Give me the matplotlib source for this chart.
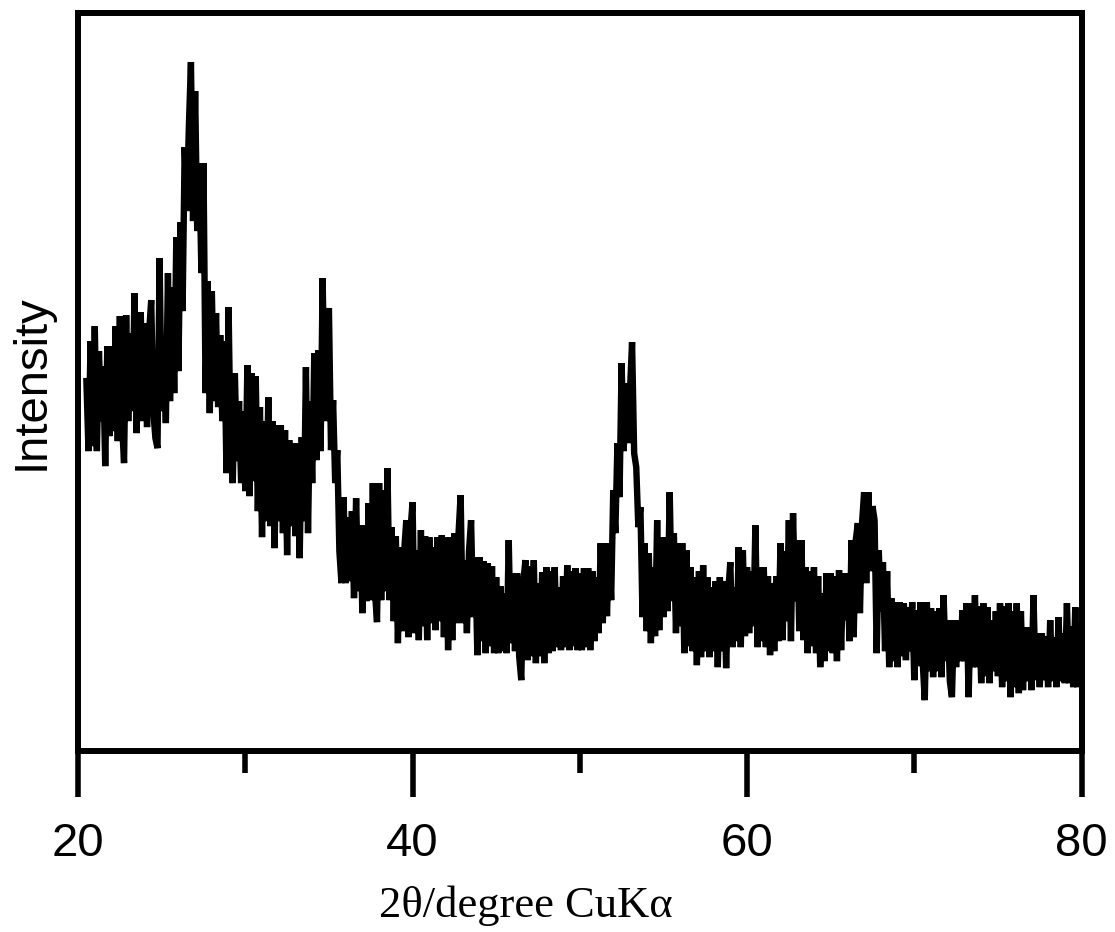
import numpy as np
import matplotlib.pyplot as plt

# XRD pattern, step 0.125 deg starting at 20.5 deg
# one row per degree (arbitrary intensity units)
start_angle = 20.5
step = 0.125
intensity = [
    370, 300, 410, 305,                          # 20.5
    425, 300, 400, 330, 385, 285, 405, 315,      # 21
    405, 320, 425, 310, 435, 330, 288, 436,      # 22
    330, 418, 340, 458, 318, 400, 439, 330,      # 23
    428, 324, 420, 451, 340, 313, 303, 493,      # 24
    340, 408, 328, 478, 350, 464, 358, 514,      # 25
    380, 529, 440, 604, 540, 624, 689, 530,      # 26
    660, 520, 588, 478, 588, 358, 470, 338,      # 27
    460, 350, 438, 344, 416, 330, 410, 278,      # 28
    444, 300, 268, 378, 290, 350, 268, 340,      # 29
    260, 386, 255, 378, 270, 375, 240, 344,      # 30
    214, 330, 230, 354, 225, 330, 203, 326,      # 31
    230, 326, 218, 321, 196, 311, 225, 308,      # 32
    215, 308, 193, 314, 230, 384, 218, 350,      # 33
    268, 398, 291, 401, 300, 473, 330, 420,      # 34
    443, 301, 351, 268, 301, 200, 168, 254,      # 35
    168, 234, 170, 240, 153, 253, 160, 226,      # 36
    138, 226, 150, 248, 151, 268, 160, 129,      # 37
    268, 151, 261, 160, 283, 151, 224, 130,      # 38
    215, 108, 204, 120, 200, 231, 114, 221,      # 39
    249, 118, 201, 111, 221, 125, 215, 111,      # 40
    214, 128, 204, 121, 214, 130, 216, 114,      # 41
    214, 101, 214, 111, 218, 128, 218, 256,      # 42
    128, 191, 118, 200, 231, 134, 194, 96,       # 43
    194, 110, 190, 98, 188, 105, 185, 98,        # 44
    174, 98, 165, 100, 158, 98, 211, 108,        # 45
    178, 100, 178, 95, 71, 170, 191, 91,         # 46
    185, 95, 191, 88, 168, 95, 179, 88,          # 47
    184, 98, 180, 100, 184, 104, 164, 101,       # 48
    175, 104, 186, 101, 180, 105, 183, 101,      # 49
    178, 101, 183, 104, 183, 101, 180, 110,      # 50
    174, 118, 208, 128, 208, 135, 208, 151,      # 51
    261, 218, 308, 254, 388, 300, 368, 308,      # 52
    360, 409, 298, 284, 224, 244, 134, 208,      # 53
    120, 198, 108, 184, 115, 231, 121, 214,      # 54
    134, 214, 140, 259, 150, 218, 118, 208,      # 55
    125, 208, 98, 201, 105, 184, 100, 174,       # 56
    86, 180, 94, 186, 100, 174, 94, 164,         # 57
    100, 170, 84, 174, 100, 170, 83, 160,        # 58
    189, 104, 164, 110, 204, 104, 201, 115,      # 59
    184, 118, 180, 125, 226, 104, 184, 110,      # 60
    184, 104, 175, 96, 168, 100, 175, 110,       # 61
    208, 111, 200, 130, 231, 110, 238, 150,      # 62
    211, 120, 211, 111, 184, 98, 180, 105,       # 63
    184, 98, 175, 84, 158, 90, 178, 100,         # 64
    178, 98, 175, 90, 181, 101, 178, 131,        # 65
    178, 110, 211, 114, 211, 228, 138, 228,      # 66
    259, 168, 259, 180, 245, 231, 98, 201,       # 67
    140, 189, 100, 180, 84, 153, 90, 149,        # 68
    84, 149, 95, 148, 91, 144, 100, 149,         # 69
    71, 141, 85, 149, 90, 51, 149, 80,           # 70
    143, 74, 140, 80, 143, 74, 156, 90,          # 71
    131, 70, 54, 131, 84, 131, 90, 141,          # 72
    90, 148, 54, 148, 84, 156, 84, 145,          # 73
    68, 148, 75, 144, 68, 131, 80, 140,          # 74
    75, 148, 64, 145, 70, 148, 54, 140,          # 75
    64, 148, 58, 140, 61, 124, 70, 124,          # 76
    61, 156, 71, 118, 64, 118, 71, 115,          # 77
    64, 131, 70, 114, 64, 134, 70, 118,          # 78
    68, 148, 68, 125, 64, 144, 64, 130,          # 79
    90,                                          # 80
]
two_theta = start_angle + step * np.arange(len(intensity))

x_ticks = [20, 40, 60, 80]
x_minor = [30, 50, 70]

fig = plt.figure(figsize=(11.15, 9.32), dpi=100)
ax = fig.add_axes([0.070, 0.194, 0.900, 0.792])

ax.plot(two_theta, intensity, color='black', linewidth=4.6,
        solid_joinstyle='miter')

ax.set_xlim(20, 80)
ax.set_ylim(0, 738)
ax.set_xticks(x_ticks)
ax.set_xticks(x_minor, minor=True)
ax.set_yticks([])

for s in ax.spines.values():
    s.set_linewidth(4.3)

ax.tick_params(axis='x', which='major', direction='out', length=33, width=4,
               pad=18, labelsize=34)
ax.tick_params(axis='x', which='minor', direction='out', length=16, width=4)
for lab in ax.get_xticklabels():
    lab.set_fontfamily('Liberation Sans')

ax.set_xlabel('2θ/degree CuKα', fontsize=32, family='Liberation Serif')
ax.xaxis.set_label_coords(0.446, -0.182)
ax.set_ylabel('Intensity', fontsize=34, family='Liberation Sans')
ax.yaxis.set_label_coords(-0.024, 0.5)

fig.savefig('out.png', dpi=100)
